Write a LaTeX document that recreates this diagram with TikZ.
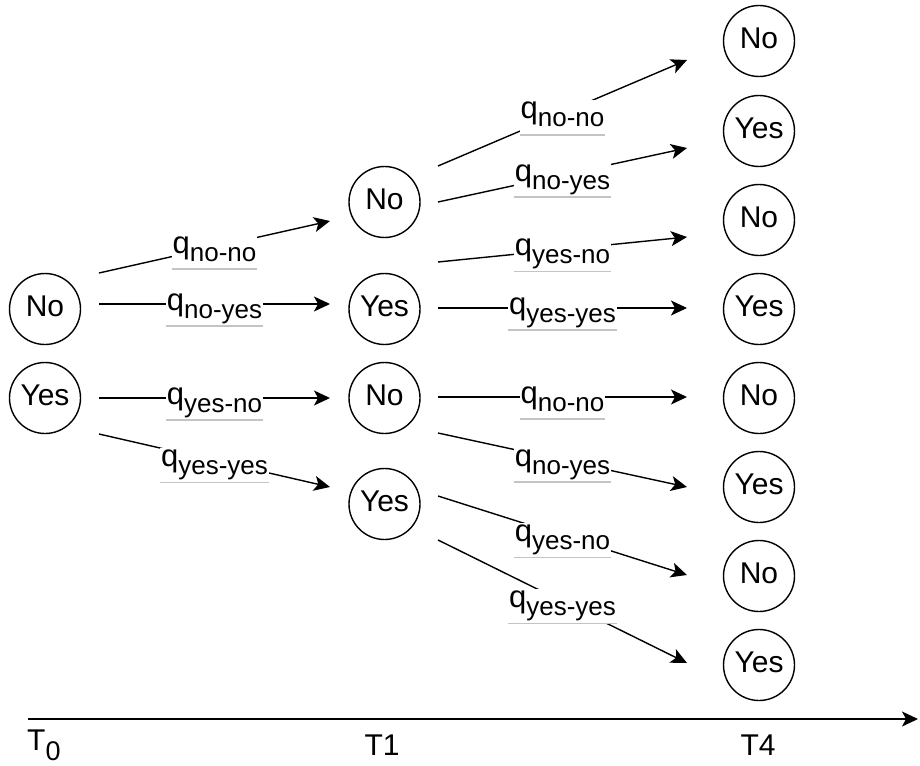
\documentclass[tikz,border=0pt]{standalone}
\usepackage{fontspec}
\setmainfont{Liberation Sans}
\usetikzlibrary{arrows.meta}
\definecolor{ulgray}{HTML}{C4C4C4}
\newcommand\qsub[1]{{\fontsize{31}{33}\selectfont q}\raisebox{-8pt}{\fontsize{26}{28}\selectfont #1}}
\begin{document}
\begin{tikzpicture}[x=1pt,y=-1pt,
  state/.style={circle, draw, line width=1.4pt, minimum size=71pt, inner sep=0pt,
                text depth=6pt, font=\fontsize{30}{32}\selectfont},
  trans/.style={line width=1.4pt, -{Stealth[length=16pt,width=15pt,inset=4pt]}},
  lab/.style={fill=white, inner xsep=1pt, inner ysep=0pt, text height=19pt, text depth=16pt,
              anchor=base, yshift=-6pt,
              path picture={\draw[-, ulgray, line width=2pt]
                 (path picture bounding box.south west) -- (path picture bounding box.south east);}},
  tick/.style={anchor=base, inner sep=0pt, font=\fontsize{30}{32}\selectfont}]
\useasboundingbox (0,0) rectangle (920,765);

% states
\node[state] (a1) at (45,309) {No};
\node[state] (a2) at (45,398) {Yes};
\node[state] (b1) at (384.5,202) {No};
\node[state] (b2) at (384.5,309) {Yes};
\node[state] (b3) at (384.5,398) {No};
\node[state] (b4) at (384.5,504) {Yes};
\node[state] (c1) at (759,41) {No};
\node[state] (c2) at (759,131) {Yes};
\node[state] (c3) at (759,220) {No};
\node[state] (c4) at (759,309) {Yes};
\node[state] (c5) at (759,398) {No};
\node[state] (c6) at (759,487) {Yes};
\node[state] (c7) at (759,576) {No};
\node[state] (c8) at (759,665) {Yes};

% free arrow ends
\coordinate (e1s) at (99,273);  \coordinate (e1e) at (330,221);
\coordinate (e2s) at (99,304);  \coordinate (e2e) at (330,304);
\coordinate (e3s) at (99,398);  \coordinate (e3e) at (330,398);
\coordinate (e4s) at (99,434);  \coordinate (e4e) at (330,487);
\coordinate (f1s) at (438,166); \coordinate (f1e) at (687,60);
\coordinate (f2s) at (438,202); \coordinate (f2e) at (687,148);
\coordinate (f3s) at (438,262); \coordinate (f3e) at (687,237);
\coordinate (f4s) at (438,308); \coordinate (f4e) at (687,308);
\coordinate (f5s) at (438,397); \coordinate (f5e) at (687,397);
\coordinate (f6s) at (438,433); \coordinate (f6e) at (687,487);
\coordinate (f7s) at (438,496); \coordinate (f7e) at (687,575);
\coordinate (f8s) at (438,540); \coordinate (f8e) at (687,663);

% transitions T0 -> T1
\draw[trans] (e1s) -- node[lab] (l1) {\qsub{no-no}} (e1e);
\draw[trans] (e2s) -- node[lab] (l2) {\qsub{no-yes}} (e2e);
\draw[trans] (e3s) -- node[lab] (l3) {\qsub{yes-no}} (e3e);
\draw[trans] (e4s) -- node[lab] (l4) {\qsub{yes-yes}} (e4e);

% transitions T1 -> T4
\draw[trans] (f1s) -- node[lab] (m1) {\qsub{no-no}} (f1e);
\draw[trans] (f2s) -- node[lab] (m2) {\qsub{no-yes}} (f2e);
\draw[trans] (f3s) -- node[lab] (m3) {\qsub{yes-no}} (f3e);
\draw[trans] (f4s) -- node[lab] (m4) {\qsub{yes-yes}} (f4e);
\draw[trans] (f5s) -- node[lab] (m5) {\qsub{no-no}} (f5e);
\draw[trans] (f6s) -- node[lab] (m6) {\qsub{no-yes}} (f6e);
\draw[trans] (f7s) -- node[lab] (m7) {\qsub{yes-no}} (f7e);
\draw[trans] (f8s) -- node[lab] (m8) {\qsub{yes-yes}} (f8e);

% time axis
\coordinate (axs) at (28,719);
\coordinate (axe) at (918,719);
\draw[trans] (axs) -- (axe);
\node[tick, anchor=base west] (t0) at (27,750) {T\raisebox{-10pt}{\fontsize{27}{29}\selectfont 0}};
\node[tick] (t1) at (382,755) {T1};
\node[tick] (t4) at (758,755) {T4};
\end{tikzpicture}
\end{document}
